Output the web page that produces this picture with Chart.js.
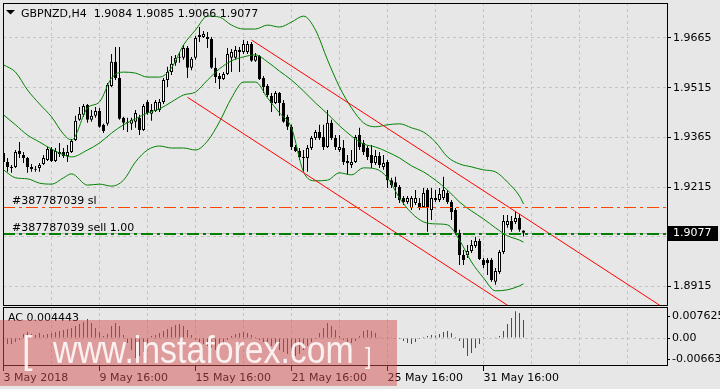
<!DOCTYPE html>
<html>
<head>
<meta charset="utf-8">
<script src="https://cdn.jsdelivr.net/npm/chart.js@4.4.1/dist/chart.umd.min.js"></script>
<style>
  html, body { margin:0; padding:0; width:720px; height:389px; overflow:hidden; background:#e7e7e7; }
  #stage { position:relative; width:720px; height:389px; }
  #mainCanvas { position:absolute; left:0; top:0; }
  #acCanvas { position:absolute; left:0; top:300px; }
  #wm { position:absolute; left:0; top:320px; width:397px; height:66px; background:rgba(214,80,80,0.5); overflow:hidden; }
  .wmt { position:absolute; top:11px; font-family:'Liberation Sans', Arial, sans-serif; font-size:38px; line-height:38px; color:rgba(255,255,255,0.85); white-space:nowrap; }
</style>
</head>
<body>
<div id="stage">
  <canvas id="mainCanvas" width="720" height="307"></canvas>
  <canvas id="acCanvas" width="720" height="89"></canvas>
  <div id="wm">
    <span class="wmt" style="left:22px;">[</span>
    <span class="wmt" style="left:53px; transform:scaleX(0.89); transform-origin:0 0;">www.instaforex.com</span>
    <span class="wmt" style="left:365px; top:24px; font-size:24px; line-height:24px;">]</span>
  </div>
</div>
<script>
// ---------------- data ----------------
const symbolName = 'GBPNZD,H4';
const orderTicket = '387787039';
const orderLots = '1.00';
const slPrice = 1.9155;
const sellPrice = 1.9073;

const openP = [
 1.9318,1.9291,1.9276,1.9276,1.9324,1.9312,1.9303,1.9276,1.9267,1.9273,
 1.9285,1.9297,1.9330,1.9294,1.9321,1.9321,1.9309,1.9321,1.9357,1.9418,
 1.9433,1.9463,1.9418,1.9430,1.9445,1.9403,1.9406,1.9520,1.9593,1.9544,
 1.9424,1.9412,1.9406,1.9412,1.9424,1.9387,1.9472,1.9436,1.9445,1.9448,
 1.9472,1.9538,1.9562,1.9590,1.9605,1.9605,1.9635,1.9575,1.9605,1.9668,
 1.9668,1.9668,1.9662,1.9575,1.9550,1.9541,1.9556,1.9605,1.9605,1.9629,
 1.9623,1.9623,1.9647,1.9596,1.9611,1.9544,1.9520,1.9490,1.9469,1.9499,
 1.9469,1.9427,1.9397,1.9336,1.9324,1.9306,1.9303,1.9333,1.9363,1.9381,
 1.9366,1.9336,1.9409,1.9363,1.9327,1.9333,1.9294,1.9282,1.9291,1.9372,
 1.9348,1.9333,1.9312,1.9288,1.9309,1.9276,1.9291,1.9236,1.9230,1.9215,
 1.9182,1.9170,1.9152,1.9167,1.9167,1.9155,1.9206,1.9146,1.9176,1.9176,
 1.9182,1.9197,1.9170,1.9146,1.9077,1.9010,1.9010,1.9022,1.9037,1.9052,
 1.8995,1.8995,1.8995,1.8929,1.8959,1.9019,1.9101,1.9113,1.9110,1.9122,
 1.9084];
const highP = [
 1.9324,1.9303,1.9282,1.9327,1.9351,1.9321,1.9306,1.9285,1.9279,1.9288,
 1.9312,1.9336,1.9336,1.9333,1.9348,1.9333,1.9342,1.9360,1.9430,1.9457,
 1.9466,1.9466,1.9448,1.9457,1.9454,1.9406,1.9529,1.9617,1.9638,1.9638,
 1.9427,1.9424,1.9424,1.9448,1.9433,1.9466,1.9478,1.9466,1.9478,1.9481,
 1.9544,1.9578,1.9611,1.9614,1.9623,1.9644,1.9641,1.9608,1.9671,1.9698,
 1.9686,1.9683,1.9668,1.9605,1.9559,1.9562,1.9635,1.9632,1.9641,1.9638,
 1.9659,1.9656,1.9653,1.9620,1.9614,1.9550,1.9526,1.9499,1.9505,1.9502,
 1.9478,1.9433,1.9403,1.9342,1.9333,1.9327,1.9342,1.9369,1.9387,1.9403,
 1.9403,1.9448,1.9418,1.9372,1.9372,1.9357,1.9312,1.9327,1.9372,1.9394,
 1.9357,1.9339,1.9342,1.9327,1.9321,1.9312,1.9297,1.9243,1.9246,1.9221,
 1.9188,1.9188,1.9188,1.9206,1.9182,1.9212,1.9212,1.9212,1.9206,1.9212,
 1.9246,1.9206,1.9176,1.9152,1.9086,1.9025,1.9040,1.9055,1.9065,1.9059,
 1.9001,1.9001,1.9001,1.8971,1.9025,1.9131,1.9131,1.9128,1.9140,1.9134,
 1.9085];
const lowP = [
 1.9282,1.9261,1.9258,1.9273,1.9303,1.9288,1.9258,1.9261,1.9261,1.9261,
 1.9282,1.9294,1.9291,1.9291,1.9306,1.9303,1.9291,1.9318,1.9354,1.9415,
 1.9427,1.9409,1.9412,1.9424,1.9394,1.9378,1.9400,1.9517,1.9538,1.9418,
 1.9387,1.9381,1.9387,1.9394,1.9372,1.9384,1.9433,1.9415,1.9442,1.9442,
 1.9466,1.9517,1.9553,1.9581,1.9590,1.9599,1.9544,1.9568,1.9599,1.9653,
 1.9665,1.9635,1.9572,1.9529,1.9511,1.9538,1.9553,1.9562,1.9599,1.9562,
 1.9617,1.9617,1.9593,1.9593,1.9538,1.9499,1.9487,1.9442,1.9466,1.9430,
 1.9409,1.9387,1.9327,1.9321,1.9297,1.9261,1.9261,1.9327,1.9357,1.9357,
 1.9327,1.9333,1.9357,1.9327,1.9321,1.9282,1.9252,1.9273,1.9288,1.9327,
 1.9312,1.9297,1.9273,1.9282,1.9273,1.9267,1.9212,1.9212,1.9182,1.9167,
 1.9161,1.9164,1.9146,1.9161,1.9146,1.9152,1.9080,1.9116,1.9170,1.9170,
 1.9176,1.9164,1.9116,1.9071,1.8980,1.8980,1.9001,1.9016,1.9031,1.8995,
 1.8971,1.8950,1.8929,1.8920,1.8953,1.9013,1.9092,1.9080,1.9104,1.9080,
 1.9066];
const closeP = [
 1.9291,1.9276,1.9273,1.9321,1.9315,1.9303,1.9276,1.9270,1.9270,1.9282,
 1.9303,1.9330,1.9294,1.9324,1.9315,1.9309,1.9321,1.9354,1.9415,1.9436,
 1.9460,1.9418,1.9430,1.9445,1.9397,1.9384,1.9523,1.9593,1.9544,1.9421,
 1.9409,1.9409,1.9418,1.9439,1.9387,1.9460,1.9439,1.9448,1.9472,1.9472,
 1.9538,1.9562,1.9587,1.9605,1.9608,1.9635,1.9575,1.9602,1.9665,1.9674,
 1.9677,1.9662,1.9575,1.9547,1.9541,1.9556,1.9617,1.9623,1.9629,1.9623,
 1.9647,1.9647,1.9596,1.9611,1.9541,1.9517,1.9493,1.9469,1.9499,1.9469,
 1.9412,1.9397,1.9336,1.9324,1.9306,1.9303,1.9333,1.9363,1.9381,1.9363,
 1.9336,1.9409,1.9363,1.9336,1.9336,1.9291,1.9288,1.9291,1.9366,1.9336,
 1.9321,1.9306,1.9288,1.9309,1.9282,1.9288,1.9236,1.9221,1.9215,1.9176,
 1.9170,1.9182,1.9182,1.9182,1.9155,1.9197,1.9152,1.9182,1.9182,1.9194,
 1.9206,1.9170,1.9140,1.9077,1.9010,1.8995,1.9022,1.9040,1.9052,1.8998,
 1.8980,1.8986,1.8935,1.8962,1.9019,1.9113,1.9113,1.9086,1.9122,1.9086,
 1.9077];

// Bollinger bands at these bar numbers
const bandIdx = [0,3,6,9,12,15,17,21,24,27,30,33,36,39,42,45,48,51,54,57,60,63,66,69,72,75,78,81,84,87,90,93,96,99,102,105,108,111,114,117,120,123,126,129,130];
const bbUpper = [1.9584,1.9562,1.9508,1.9466,1.9427,1.9375,1.9357,1.9454,1.9472,1.9544,1.9562,1.9559,1.9547,1.9547,1.9575,1.9644,1.9689,1.9731,1.9728,1.9704,1.9692,1.9692,1.9704,1.9698,1.9713,1.9731,1.9689,1.9599,1.9517,1.9454,1.9409,1.9397,1.9403,1.9406,1.9394,1.9381,1.9351,1.9306,1.9285,1.9276,1.9267,1.9261,1.9230,1.9188,1.9164];
const bbMiddle = [1.9433,1.9403,1.9372,1.9351,1.9330,1.9312,1.9306,1.9327,1.9348,1.9378,1.9403,1.9421,1.9439,1.9451,1.9472,1.9493,1.9502,1.9538,1.9572,1.9596,1.9608,1.9614,1.9593,1.9565,1.9538,1.9505,1.9469,1.9436,1.9400,1.9369,1.9345,1.9336,1.9321,1.9303,1.9279,1.9261,1.9236,1.9206,1.9170,1.9143,1.9119,1.9092,1.9068,1.9055,1.9049];
const bbLower = [1.9267,1.9243,1.9240,1.9227,1.9224,1.9243,1.9255,1.9221,1.9224,1.9218,1.9236,1.9291,1.9327,1.9339,1.9333,1.9333,1.9327,1.9354,1.9412,1.9484,1.9532,1.9532,1.9484,1.9439,1.9394,1.9261,1.9234,1.9236,1.9258,1.9252,1.9273,1.9270,1.9243,1.9182,1.9137,1.9110,1.9104,1.9101,1.9055,1.8989,1.8941,1.8902,1.8905,1.8917,1.8923];

// trend channel (two anchor points each: bar number, price)
const chanUpperIdx = [62, 165];
const chanUpperPrice = [1.9659, 1.8851];
const chanLowerIdx = [46, 130];
const chanLowerPrice = [1.9486, 1.8827];

// Accelerator Oscillator
const acValues = [
 -0.00123,-0.00148,-0.00148,-0.00098,-0.00049,0.00098,0.00148,0.00098,0.00074,0.00123,
 0.00074,0.00098,0.00123,0.00148,0.00172,0.00197,0.00221,0.00246,0.00295,0.00344,
 0.00394,0.00467,0.00369,0.00246,0.00148,0.00049,0.00098,0.00295,0.00369,0.00295,
 0.00074,-0.00123,-0.00295,-0.00492,-0.00443,-0.00344,-0.00123,0.00049,0.00074,0.00123,
 0.00172,0.00221,0.00271,0.00320,0.00344,0.00295,0.00197,0.00074,-0.00049,-0.00098,
 -0.00148,-0.00197,-0.00246,-0.00295,-0.00246,-0.00148,-0.00049,0.00049,0.00098,0.00123,
 0.00148,0.00123,0.00074,0.00025,-0.00049,-0.00098,-0.00148,-0.00197,-0.00246,-0.00295,
 -0.00344,-0.00394,-0.00418,-0.00443,-0.00394,-0.00295,-0.00197,-0.00098,-0.00025,0.00123,
 0.00246,0.00369,0.00295,0.00197,0.00049,-0.00049,-0.00098,-0.00123,-0.00074,0.00049,
 0.00172,0.00197,0.00172,0.00123,0.00025,0.00012,0.00025,0.00020,0.00012,-0.00025,
 -0.00074,-0.00123,-0.00148,-0.00098,-0.00025,0.00025,0.00049,0.00074,0.00062,0.00098,
 0.00148,0.00172,0.00123,0.00025,-0.00074,-0.00246,-0.00443,-0.00369,-0.00246,-0.00148,
 0.00025,0.00020,0.00012,0.00005,0.00049,0.00172,0.00344,0.00492,0.00660,0.00615,
 0.004443];

// axis ticks
const priceTicks = [1.8915, 1.9065, 1.9215, 1.9365, 1.9515, 1.9665];
const acTicks = [0.007625, 0, -0.00663];
const acTickLabels = ['0.007625', '0.00', '-0.00663'];
const timeLabelIdx = [0, 24, 48, 72, 96, 120];
const timeLabels = ['3 May 2018', '9 May 16:00', '15 May 16:00', '21 May 16:00', '25 May 16:00', '31 May 16:00'];

// ---------------- view setup ----------------
const X_MIN = -0.125, X_MAX = 165.875;      // bar slots visible in the window
const PRICE_MIN = 1.88592, PRICE_MAX = 1.97706;
const AC_MIN = -0.00663, AC_MAX = 0.007625;
const last = closeP.length - 1;
const gridIdx = [];
for (let v = 0; v <= X_MAX; v += 12) gridIdx.push(v);

const GRID = '#c4c4c4';
const FONT = { family: 'DejaVu Sans', size: 11 };
const FONT_CSS = '11px "DejaVu Sans"';
Chart.defaults.font.family = 'DejaVu Sans';
Chart.defaults.font.size = 11;
Chart.defaults.color = '#000';

const noPad = s => { s.paddingTop = 0; s.paddingBottom = 0; s.paddingLeft = 0; s.paddingRight = 0; };

const idx = closeP.map((_, i) => i);
const wickData = idx.map(i => ({ x: i, y: [lowP[i], highP[i]] }));
const bodyData = idx.map(i => ({ x: i, y: [openP[i], closeP[i]] }));
const bodyFill = idx.map(i => closeP[i] >= openP[i] ? '#ffffff' : '#000000');
const band = arr => bandIdx.map((b, k) => ({ x: b, y: arr[k] }));
const seg = (ix, pr) => ix.map((b, k) => ({ x: b, y: pr[k] }));

const lineDs = (data, color, order, extra) => Object.assign({
  type: 'line', data, borderColor: color, borderWidth: 1, pointRadius: 0,
  fill: false, order, clip: 0
}, extra || {});

// horizontal price levels drawn through the y scale, snapped to whole pixels
function levelLine(chart, price, color, width, dash) {
  const { ctx, chartArea: a, scales: { y } } = chart;
  let py = Math.round(y.getPixelForValue(price));
  if (width % 2 === 1) py += 0.5;
  ctx.save();
  ctx.beginPath();
  ctx.rect(a.left, a.top, a.right - a.left, a.bottom - a.top);
  ctx.clip();
  ctx.strokeStyle = color;
  ctx.lineWidth = width;
  ctx.setLineDash(dash);
  ctx.beginPath();
  ctx.moveTo(a.left, py);
  ctx.lineTo(a.right, py);
  ctx.stroke();
  ctx.restore();
}

const levels = {
  id: 'levels',
  beforeDatasetsDraw(chart) {
    levelLine(chart, closeP[last], '#b4b4b4', 1, []);
  },
  afterDatasetsDraw(chart) {
    levelLine(chart, slPrice, '#ff4500', 1, [12, 4, 3, 4]);
    levelLine(chart, sellPrice, '#008000', 2, [12, 4, 3, 4]);
  }
};

const mainOverlay = {
  id: 'mainOverlay',
  afterDraw(chart) {
    const { ctx, chartArea: a, scales: { y } } = chart;
    ctx.save();
    ctx.strokeStyle = '#000';
    ctx.lineWidth = 1;
    ctx.strokeRect(a.left + 0.5, a.top + 0.5, a.right - a.left, a.bottom - a.top);
    // header
    ctx.fillStyle = '#000';
    ctx.beginPath();
    ctx.moveTo(6, 10); ctx.lineTo(15, 10); ctx.lineTo(10.5, 14.5); ctx.closePath(); ctx.fill();
    ctx.font = FONT_CSS;
    ctx.textAlign = 'left';
    ctx.textBaseline = 'alphabetic';
    const f = v => v.toFixed(4);
    ctx.fillText(symbolName + '  ' + f(openP[last]) + ' ' + f(highP[last]) + ' ' + f(lowP[last]) + ' ' + f(closeP[last]), 21, 17);
    // order labels
    ctx.fillText('#' + orderTicket + ' sl', 12, Math.round(y.getPixelForValue(slPrice)) - 3);
    ctx.fillText('#' + orderTicket + ' sell ' + orderLots, 12, Math.round(y.getPixelForValue(sellPrice)) - 3);
    // current price box
    const yc = Math.round(y.getPixelForValue(closeP[last]));
    ctx.fillStyle = '#000';
    ctx.fillRect(a.right + 1, yc - 7, 50, 15);
    ctx.fillStyle = '#fff';
    ctx.textBaseline = 'middle';
    ctx.fillText(f(closeP[last]), a.right + 6, yc + 0.5);
    ctx.restore();
  }
};

new Chart(document.getElementById('mainCanvas'), {
  type: 'bar',
  data: {
    datasets: [
      lineDs(seg(chanUpperIdx, chanUpperPrice), '#ff0000', 1),
      lineDs(seg(chanLowerIdx, chanLowerPrice), '#ff0000', 1),
      lineDs(band(bbUpper), '#008000', 2, { cubicInterpolationMode: 'monotone' }),
      lineDs(band(bbMiddle), '#008000', 2, { cubicInterpolationMode: 'monotone' }),
      lineDs(band(bbLower), '#008000', 2, { cubicInterpolationMode: 'monotone' }),
      {
        type: 'bar', data: bodyData, backgroundColor: bodyFill, borderColor: '#000',
        borderWidth: 1, borderSkipped: false, barThickness: 3, minBarLength: 1,
        grouped: false, inflateAmount: 0, order: 4, clip: 0
      },
      {
        type: 'bar', data: wickData, backgroundColor: '#000', borderWidth: 0,
        barThickness: 1, grouped: false, inflateAmount: 0, order: 5, clip: 0
      }
    ]
  },
  options: {
    responsive: false, animation: false, devicePixelRatio: 1, events: [],
    layout: { padding: { left: 3, top: 3, right: 0, bottom: 2 } },
    plugins: { legend: { display: false }, tooltip: { enabled: false } },
    scales: {
      x: {
        type: 'linear', min: X_MIN, max: X_MAX, offset: false,
        afterBuildTicks: s => { s.ticks = gridIdx.map(v => ({ value: v })); },
        afterFit: s => { s.height = 0; noPad(s); },
        ticks: { display: false },
        border: { display: false, dash: [3, 3] },
        grid: { color: GRID, offset: false, drawTicks: false }
      },
      y: {
        type: 'linear', position: 'right', min: PRICE_MIN, max: PRICE_MAX,
        afterBuildTicks: s => { s.ticks = priceTicks.map(v => ({ value: v })); },
        afterFit: s => { s.width = 53; noPad(s); },
        ticks: { callback: v => Number(v).toFixed(4), padding: 2, color: '#000', font: FONT },
        border: { display: false, dash: [3, 3] },
        grid: { color: GRID, tickColor: '#000', tickLength: 4, drawTicks: true }
      }
    }
  },
  plugins: [levels, mainOverlay]
});

const acColors = acValues.map((v, i) => (i > 0 && v > acValues[i - 1]) ? '#008000' : '#ff0000');

const acOverlay = {
  id: 'acOverlay',
  afterDraw(chart) {
    const { ctx, chartArea: a, scales: { y } } = chart;
    ctx.save();
    ctx.strokeStyle = '#000';
    ctx.lineWidth = 1;
    ctx.strokeRect(a.left + 0.5, a.top + 0.5, a.right - a.left, a.bottom - a.top);
    ctx.font = FONT_CSS;
    ctx.fillStyle = '#000';
    ctx.textAlign = 'left';
    ctx.textBaseline = 'middle';
    acTicks.forEach((v, k) => {
      let py = y.getPixelForValue(v);
      py = Math.min(Math.max(py, a.top + 9), a.bottom - 6);
      const ry = Math.round(py) + 0.5;
      ctx.beginPath(); ctx.moveTo(a.right, ry); ctx.lineTo(a.right + 3, ry); ctx.stroke();
      ctx.fillText(acTickLabels[k], a.right + 5, py);
    });
    ctx.fillText('AC ' + acValues[last], 8, a.top + 11);
    ctx.restore();
  }
};

new Chart(document.getElementById('acCanvas'), {
  type: 'bar',
  data: {
    datasets: [{
      data: idx.map(i => ({ x: i, y: acValues[i] })), backgroundColor: acColors,
      borderWidth: 0, barThickness: 1, grouped: false, inflateAmount: 0, clip: 0
    }]
  },
  options: {
    responsive: false, animation: false, devicePixelRatio: 1, events: [],
    layout: { padding: { left: 3, top: 7, right: 0, bottom: 0 } },
    plugins: { legend: { display: false }, tooltip: { enabled: false } },
    scales: {
      x: {
        type: 'linear', min: X_MIN, max: X_MAX, offset: false,
        afterBuildTicks: s => { s.ticks = gridIdx.map(v => ({ value: v })); },
        afterFit: s => { s.height = 24; noPad(s); },
        ticks: {
          display: true, autoSkip: false, maxRotation: 0, minRotation: 0, align: 'start',
          padding: 1, color: '#000', font: FONT,
          callback: v => { const k = timeLabelIdx.indexOf(v); return k >= 0 ? timeLabels[k] : ''; }
        },
        border: { display: false, dash: [3, 3] },
        grid: {
          color: GRID, offset: false, drawTicks: true, tickLength: 6,
          tickColor: c => (c.tick && timeLabelIdx.indexOf(c.tick.value) >= 0) ? '#000' : 'rgba(0,0,0,0)'
        }
      },
      y: {
        type: 'linear', position: 'right', min: AC_MIN, max: AC_MAX,
        afterBuildTicks: s => { s.ticks = [AC_MIN, 0, AC_MAX].map(v => ({ value: v })); },
        afterFit: s => { s.width = 53; noPad(s); },
        ticks: { display: false },
        border: { display: false, dash: [3, 3] },
        grid: { color: GRID, drawTicks: false }
      }
    }
  },
  plugins: [acOverlay]
});
</script>
</body>
</html>
